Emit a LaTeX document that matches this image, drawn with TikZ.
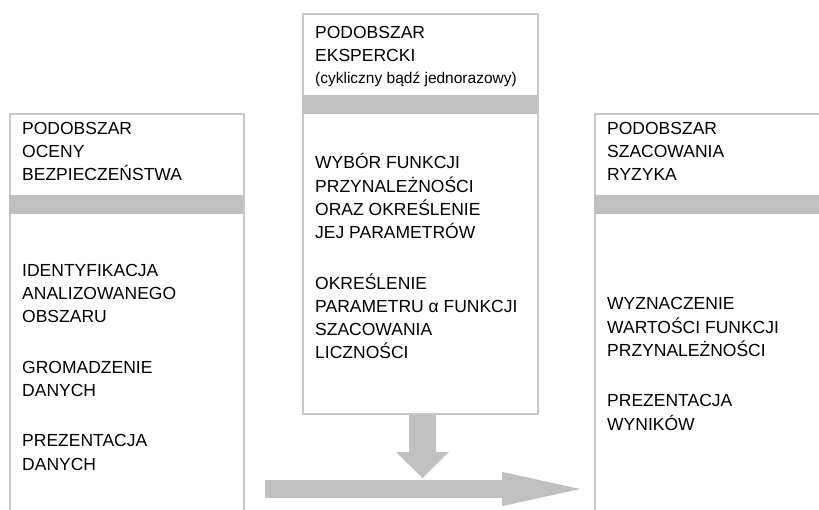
\documentclass[tikz,border=0pt]{standalone}
\usepackage{fontspec}
\setmainfont{Liberation Sans}
\usetikzlibrary{arrows.meta,positioning}
\definecolor{framegray}{RGB}{200,200,200}
\definecolor{bandgray}{RGB}{192,192,192}

\begin{document}
\begin{tikzpicture}[
    x=1pt, y=-1pt,
    areabox/.style={draw=framegray, line width=2pt, anchor=north west, inner sep=0pt, minimum width=234pt},
    areaband/.style={fill=bandgray, anchor=north west, inner sep=0pt, minimum width=234pt, minimum height=18.5pt},
    areatext/.style={anchor=base west, align=left, inner sep=0pt, font=\fontsize{17.5}{23.3}\selectfont},
    notetext/.style={anchor=base west, inner sep=0pt, font=\fontsize{15.5}{18}\selectfont},
    flowarrow/.style={bandgray, line width=18.3pt, -{Triangle[length=78pt, width=34.3pt, line width=0pt]}},
    droparrow/.style={bandgray, line width=27pt, -{Triangle[length=26pt, width=53pt, line width=0pt]}}
  ]
    \useasboundingbox (0,0) rectangle (819,510);
    \clip (0,0) rectangle (819,510);
    % three sub-areas
    \node[areabox, minimum height=420pt] (safetybox) at (9,113) {};
    \node[areabox, minimum width=235pt, minimum height=400pt] (expertbox) at (302,13) {};
    \node[areabox, minimum width=250pt, minimum height=420pt] (riskbox) at (594,113) {};
    \node[areaband] (safetyband) at ([shift={(0,82)}]safetybox.north west) {};
    \node[areaband, minimum width=235pt] (expertband) at ([shift={(0,82)}]expertbox.north west) {};
    \node[areaband, minimum width=250pt] (riskband) at ([shift={(0,82)}]riskbox.north west) {};
    % headers (placed by the baseline of their last line)
    \node[areatext] (safetyhead) at ([shift={(13,68)}]safetybox.north west) {PODOBSZAR\\OCENY\\BEZPIECZEŃSTWA};
    \node[areatext] (experthead) at ([shift={(13,48.5)}]expertbox.north west) {PODOBSZAR\\EKSPERCKI};
    \node[notetext] (expertnote) at ([shift={(13,71)}]expertbox.north west) {(cykliczny bądź jednorazowy)};
    \node[areatext] (riskhead) at ([shift={(13,68)}]riskbox.north west) {PODOBSZAR\\SZACOWANIA\\RYZYKA};
    % steps
    \node[areatext] (safetysteps) at ([shift={(13,357)}]safetybox.north west) {IDENTYFIKACJA\\ANALIZOWANEGO\\OBSZARU\\[27pt]GROMADZENIE\\DANYCH\\[27pt]PREZENTACJA\\DANYCH};
    \node[areatext] (expertsteps) at ([shift={(13,346)}]expertbox.north west) {WYBÓR FUNKCJI\\PRZYNALEŻNOŚCI\\ORAZ OKREŚLENIE\\JEJ PARAMETRÓW\\[27pt]OKREŚLENIE\\PARAMETRU α FUNKCJI\\SZACOWANIA\\LICZNOŚCI};
    \node[areatext] (risksteps) at ([shift={(13,317)}]riskbox.north west) {WYZNACZENIE\\WARTOŚCI FUNKCJI\\PRZYNALEŻNOŚCI\\[27pt]PREZENTACJA\\WYNIKÓW};
    % arrows
    \coordinate (flowstart) at (265,489);
    \coordinate (flowend) at (580,489);
    \coordinate (dropend) at ([shift={(2,63)}]expertbox.south);
    \draw[droparrow] ([xshift=2pt]expertbox.south) -- (dropend);
    \draw[flowarrow] (flowstart) -- (flowend);
  \end{tikzpicture}
\end{document}
